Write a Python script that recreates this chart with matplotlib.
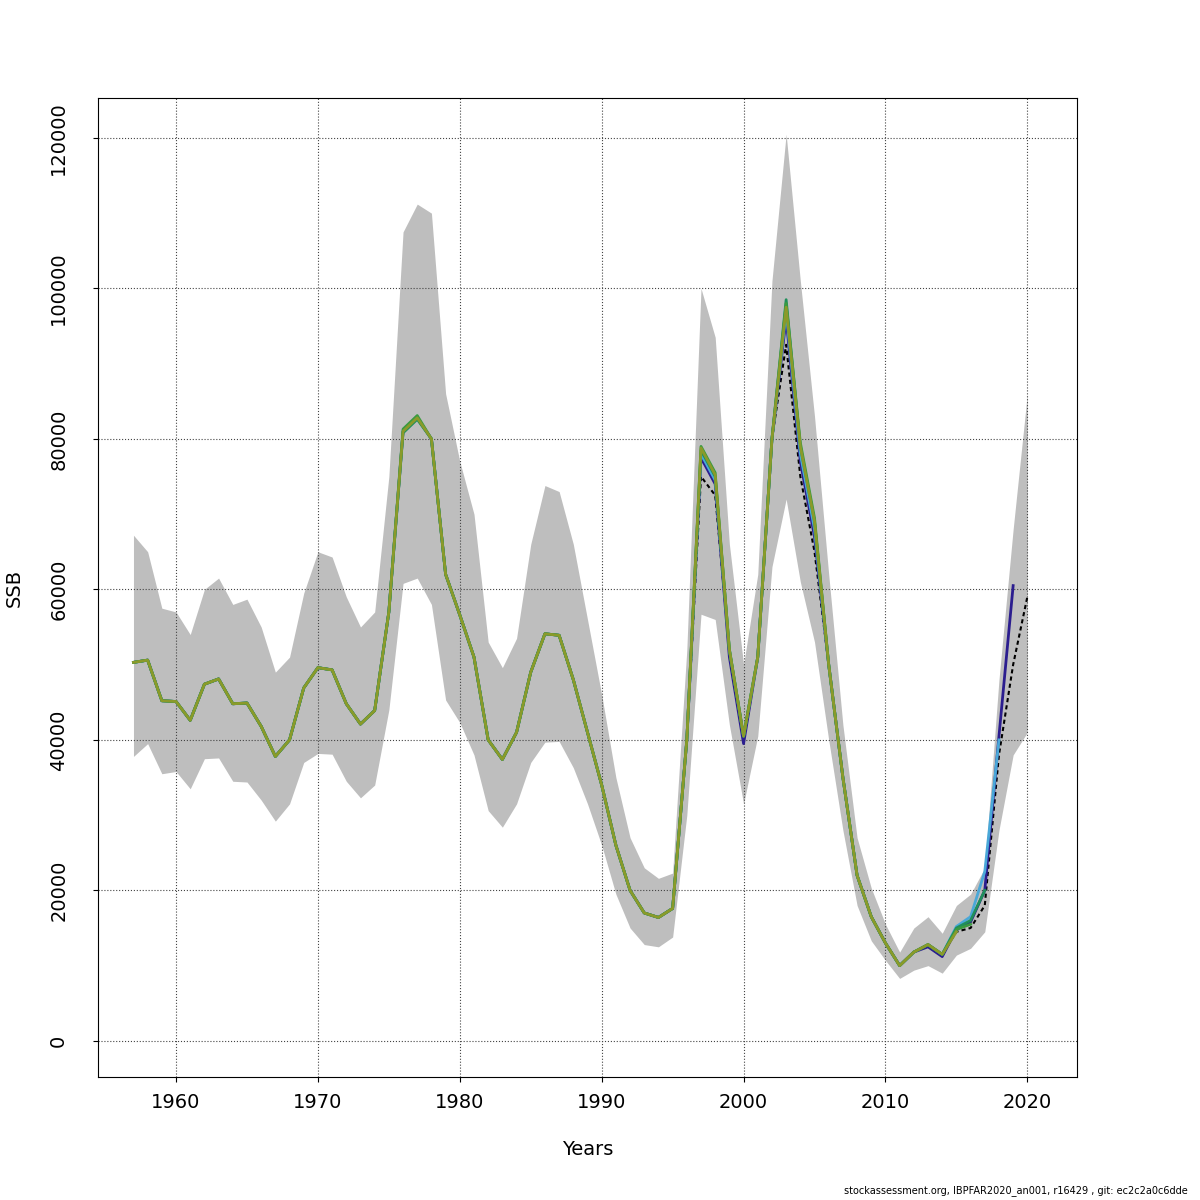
import matplotlib
matplotlib.use("Agg")
import matplotlib.pyplot as plt
import numpy as np

years = list(range(1957, 2021))
ssb = [50.3,50.6,45.2,45.1,42.6,47.4,48.1,44.8,44.9,41.8,37.8,40.0,46.9,49.6,49.3,44.8,42.1,43.9,57.0,81.0,
       82.8,80.0,62.0,56.6,51.0,40.0,37.4,41.0,49.0,54.1,53.9,48.0,41.0,34.0,26.0,20.0,17.0,16.4,17.6,40.0,
       75.0,72.5,52.0,40.5,51.0,80.0,92.5,75.0,65.0,50.0,35.0,22.0,16.5,13.0,10.0,11.8,12.8,11.5,14.5,15.0,
       18.0,38.0,50.0,59.0]
upper = [67.2,65,57.5,57,54,60,61.5,58,58.7,55,49,51,59.5,65,64.3,59,55,57,75,107.5,111.2,110,86,77,70,53,49.6,
         53.5,66,73.8,73,66,56,46,35,27,23,21.6,22.3,52,100,93.5,66,50,62,101,120.5,101,83,62,42,27,20.3,15.5,
         11.8,15,16.5,14.3,18,19.5,23,48,68,86]
lower = [37.8,39.5,35.5,35.8,33.5,37.5,37.6,34.5,34.4,32,29.2,31.5,37,38.2,38.1,34.5,32.3,34,44,60.8,61.5,58,
         45.3,42.3,38,30.6,28.4,31.5,37,39.7,39.8,36.3,31.5,26,19.5,15,12.8,12.5,13.8,30,56.7,56,42,31.5,40.5,
         63,72,61,53,40,28,18,13.3,10.7,8.3,9.4,10,9,11.4,12.3,14.5,28,38,41]

# retrospective peels: (end year, colour, overrides {year: value})
peels = [
    (2019, "#2b1d8f", {1997: 77.5, 1998: 74.0, 1999: 51.0, 2000: 39.5, 2003: 96.0, 2004: 77.0, 2005: 67.0,
                       2013: 12.5, 2014: 11.2, 2015: 14.8, 2016: 15.8, 2017: 20.0, 2018: 40.5, 2019: 60.5}),
    (2018, "#4aa8d8", {1997: 78.0, 1998: 74.5, 2003: 97.0, 2004: 78.0, 2005: 68.0, 2015: 15.2, 2016: 16.5,
                       2017: 22.5, 2018: 40.0}),
    (2017, "#1f8f5a", {1976: 80.8, 1977: 82.6, 1997: 78.5, 1998: 75.0, 2003: 98.5, 2004: 79.0, 2005: 69.0,
                       2015: 15.0, 2016: 16.0, 2017: 20.0}),
    (2016, "#3a9a40", {1976: 81.3, 1977: 83.1, 1997: 79.0, 1998: 75.5, 2003: 98.0, 2004: 79.5, 2005: 69.5,
                       2015: 14.8, 2016: 15.5}),
    (2015, "#8a9a2a", {1997: 78.8, 1998: 75.2, 2003: 97.5, 2004: 79.0, 2005: 69.0, 2015: 14.5}),
]

fig = plt.figure(figsize=(12, 12), dpi=100)
ax = fig.add_axes([98/1200, 123/1200, (1077-98)/1200, (1077-98)/1200])
yr = np.array(years)
ax.fill_between(yr, np.array(lower)*1000, np.array(upper)*1000, color="#bebebe", lw=0)
ax.plot(yr, np.array(ssb)*1000, color="black", lw=1.5, ls=(0, (2, 1.5)))
for end, col, ov in peels:
    vals = [ov.get(y, v) for y, v in zip(years, ssb)]
    n = years.index(end) + 1
    ax.plot(yr[:n], np.array(vals[:n])*1000, color=col, lw=2)

ax.set_xlim(1954.5, 2023.5)
ax.set_ylim(-4800, 125300)
ax.set_xticks([1960,1970,1980,1990,2000,2010,2020])
ax.set_yticks(range(0, 120001, 20000))
ax.tick_params(axis="y", labelrotation=90, labelsize=14, pad=18)
ax.tick_params(axis="x", labelsize=14, pad=8)
for t in ax.get_yticklabels():
    t.set_va("center")
ax.grid(True, color="#444444", ls=":", lw=0.8)
ax.set_xlabel("Years", fontsize=14, labelpad=20)
ax.set_ylabel("SSB", fontsize=14, labelpad=18)
for s in ax.spines.values():
    s.set_linewidth(0.8)
fig.text(0.99, 0.003, "stockassessment.org, IBPFAR2020_an001, r16429 , git: ec2c2a0c6dde", ha="right", va="bottom", fontsize=7)
fig.savefig("out.png", dpi=100)
